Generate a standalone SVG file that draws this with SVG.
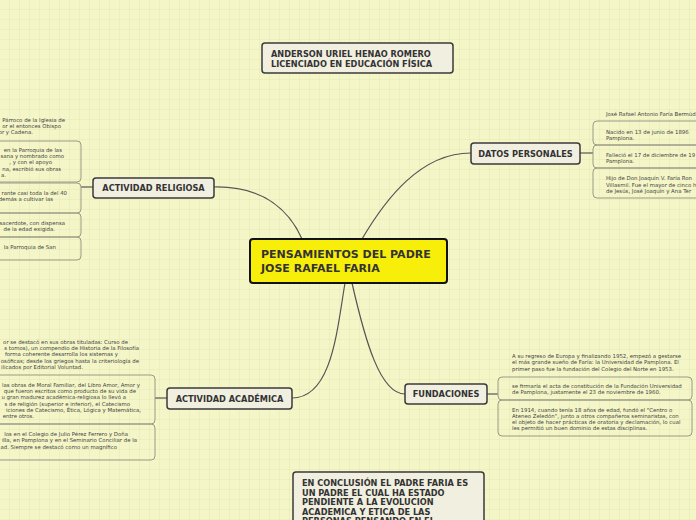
<svg xmlns="http://www.w3.org/2000/svg" width="696" height="520" viewBox="0 0 696 520">
<defs>
<pattern id="grid" width="10" height="10" patternUnits="userSpaceOnUse">
<rect width="10" height="10" fill="#f4f6c8"/>
<path d="M10 0V10M0 10H10" stroke="#e4e8b4" stroke-width="1" fill="none"/>
</pattern>
<style>
.main{fill:#f0efe0;stroke:#3a3a3a;stroke-width:1.5}
.central{fill:#f7ee0a;stroke:#111;stroke-width:2}
.leaf{fill:none;stroke:#9a9a86;stroke-width:1}
.conn{fill:none;stroke:#555;stroke-width:1.2}
.t{font-family:"DejaVu Sans",Verdana,sans-serif;font-weight:bold;fill:#333}
.lt{font-family:"DejaVu Sans",Verdana,sans-serif;font-size:5.4px;fill:#444}
.le{text-anchor:end}
</style>
</defs>
<rect width="696" height="520" fill="url(#grid)"/>

<g id="connectors">
<path class="conn" d="M214 187 C265 186 290 212 302 239"/>
<path class="conn" d="M362 239 C385 200 420 153 471 153"/>
<path class="conn" d="M345 283 C337 330 332 398 292 398"/>
<path class="conn" d="M352 283 C365 340 380 394 405 394"/>
<path class="conn" d="M81 187H93"/>
<path class="conn" d="M580 153H593"/>
<path class="conn" d="M155 398H167"/>
<path class="conn" d="M487 394H498"/>
</g>

<g id="central">
<rect class="central" x="250" y="239" width="197" height="44" rx="3"/>
<text class="t" font-size="11" fill="#111" x="261" y="258">PENSAMIENTOS DEL PADRE</text>
<text class="t" font-size="11" x="261" y="272">JOSE RAFAEL FARIA</text>
</g>

<g id="autor">
<rect class="main" x="262" y="43" width="191" height="30" rx="3"/>
<text class="t" font-size="8.2" x="271" y="56.5">ANDERSON URIEL HENAO ROMERO</text>
<text class="t" font-size="8.2" x="271" y="66.5">LICENCIADO EN EDUCACIÓN FÍSICA</text>
</g>

<g id="conclusion">
<rect class="main" x="293" y="472" width="191" height="60" rx="3"/>
<text class="t" font-size="8.2" x="302" y="486">EN CONCLUSIÓN EL PADRE FARIA ES</text>
<text class="t" font-size="8.2" x="302" y="495.5">UN PADRE EL CUAL HA ESTADO</text>
<text class="t" font-size="8.2" x="302" y="505">PENDIENTE A LA EVOLUCION</text>
<text class="t" font-size="8.2" x="302" y="514.5">ACADEMICA Y ETICA DE LAS</text>
<text class="t" font-size="8.2" x="302" y="524">PERSONAS PENSANDO EN EL</text>
</g>

<g id="actividad-religiosa">
<rect class="main" x="93" y="178" width="121" height="20" rx="3"/>
<text class="t" font-size="8.2" x="153.5" y="191" text-anchor="middle">ACTIVIDAD RELIGIOSA</text>
</g>

<g id="datos-personales">
<rect class="main" x="471" y="143" width="109" height="21" rx="3"/>
<text class="t" font-size="8.2" x="525.5" y="156.5" text-anchor="middle">DATOS PERSONALES</text>
</g>

<g id="actividad-academica">
<rect class="main" x="167" y="388" width="125" height="21" rx="3"/>
<text class="t" font-size="8.2" x="229.5" y="401.5" text-anchor="middle">ACTIVIDAD ACADÉMICA</text>
</g>

<g id="fundaciones">
<rect class="main" x="405" y="384" width="82" height="20" rx="3"/>
<text class="t" font-size="8.2" x="446" y="397" text-anchor="middle">FUNDACIONES</text>
</g>

<g id="religiosa-hojas">
<text class="lt le" x="65" y="122">Párroco de la Iglesia de</text>
<text class="lt le" x="61" y="128">or el entonces Obispo</text>
<text class="lt le" x="33" y="134">or y Cadena.</text>
<rect class="leaf" x="-10" y="141" width="91" height="41" rx="4"/>
<text class="lt le" x="62" y="152">en la Parroquia de las</text>
<text class="lt le" x="64" y="158">sana y nombrado como</text>
<text class="lt le" x="52" y="164">, y con el apoyo</text>
<text class="lt le" x="61" y="171">na, escribió sus obras</text>
<text class="lt le" x="6" y="177">a.</text>
<rect class="leaf" x="-10" y="183" width="91" height="30" rx="4"/>
<text class="lt le" x="67" y="195">rante casi toda la del 40</text>
<text class="lt le" x="53" y="201">demás a cultivar las</text>
<rect class="leaf" x="-10" y="213" width="91" height="24" rx="4"/>
<text class="lt le" x="65" y="225">sacerdote, con dispensa</text>
<text class="lt le" x="55" y="231">de la edad exigida.</text>
<rect class="leaf" x="-10" y="237" width="91" height="23" rx="4"/>
<text class="lt le" x="56" y="249">la Parroquia de San</text>
</g>

<g id="academica-hojas">
<text class="lt le" x="128" y="344">or se destacó en sus obras tituladas: Curso de</text>
<text class="lt le" x="139" y="350">s tomos), un compendio de Historia de la Filosofía</text>
<text class="lt le" x="118" y="356">forma coherente desarrolla los sistemas y</text>
<text class="lt le" x="139" y="363">osóficas; desde los griegos hasta la criteriología de</text>
<text class="lt le" x="83" y="369">ilicados por Editorial Voluntad.</text>
<rect class="leaf" x="-10" y="375" width="165" height="49" rx="4"/>
<text class="lt le" x="140" y="387">las obras de Moral Familiar, del Libro Amor, Amor y</text>
<text class="lt le" x="136" y="393">que fueron escritos como producto de su vida de</text>
<text class="lt le" x="126" y="399">u gran madurez académica-religiosa lo llevó a</text>
<text class="lt le" x="130" y="406">s de religión (superior e inferior), el Catecismo</text>
<text class="lt le" x="141" y="412">iciones de Catecismo, Ética, Lógica y Matemática,</text>
<text class="lt le" x="34" y="418">entre otros.</text>
<rect class="leaf" x="-10" y="424" width="165" height="36" rx="4"/>
<text class="lt le" x="128" y="436">los en el Colegio de Julio Pérez Ferrero y Doña</text>
<text class="lt le" x="137" y="442">illa, en Pamplona y en el Seminario Conciliar de la</text>
<text class="lt le" x="117" y="449">ad. Siempre se destacó como un magnífico</text>
</g>

<g id="datos-hojas">
<text class="lt" x="606" y="116">José Rafael Antonio Faría Bermúd</text>
<rect class="leaf" x="593" y="121" width="120" height="24" rx="4"/>
<text class="lt" x="606" y="134">Nacido en  13 de junio de 1896</text>
<text class="lt" x="606" y="140">Pamplona.</text>
<rect class="leaf" x="593" y="145" width="120" height="23" rx="4"/>
<text class="lt" x="606" y="157">Falleció el 17 de diciembre de 19</text>
<text class="lt" x="606" y="163">Pamplona.</text>
<rect class="leaf" x="593" y="168" width="120" height="30" rx="4"/>
<text class="lt" x="606" y="180">Hijo de Don Joaquín V. Faría Ron</text>
<text class="lt" x="606" y="187">Villasmil. Fue el mayor de cinco h</text>
<text class="lt" x="606" y="193">de Jesús, José Joaquín y Ana Ter</text>
</g>

<g id="fundaciones-hojas">
<text class="lt" x="512" y="358">A su regreso de Europa y finalizando 1952, empezó a gestarse</text>
<text class="lt" x="512" y="364">el más grande sueño de Faría: la Universidad de Pamplona. El</text>
<text class="lt" x="512" y="371">primer paso fue la fundación del Colegio del Norte en 1953.</text>
<rect class="leaf" x="498" y="377" width="194" height="23" rx="4"/>
<text class="lt" x="512" y="388">se firmaría el acta de constitución de la Fundación Universidad</text>
<text class="lt" x="512" y="394">de Pamplona, justamente el 23 de noviembre de 1960.</text>
<rect class="leaf" x="498" y="400" width="194" height="36" rx="4"/>
<text class="lt" x="512" y="412">En 1914, cuando tenía 18 años de edad, fundó el "Centro o</text>
<text class="lt" x="512" y="418">Ateneo Zeledón", junto a otros compañeros seminaristas, con</text>
<text class="lt" x="512" y="424">el objeto de hacer prácticas de oratoria y declamación, lo cual</text>
<text class="lt" x="512" y="430">les permitió un buen dominio de estas disciplinas.</text>
</g>
</svg>
